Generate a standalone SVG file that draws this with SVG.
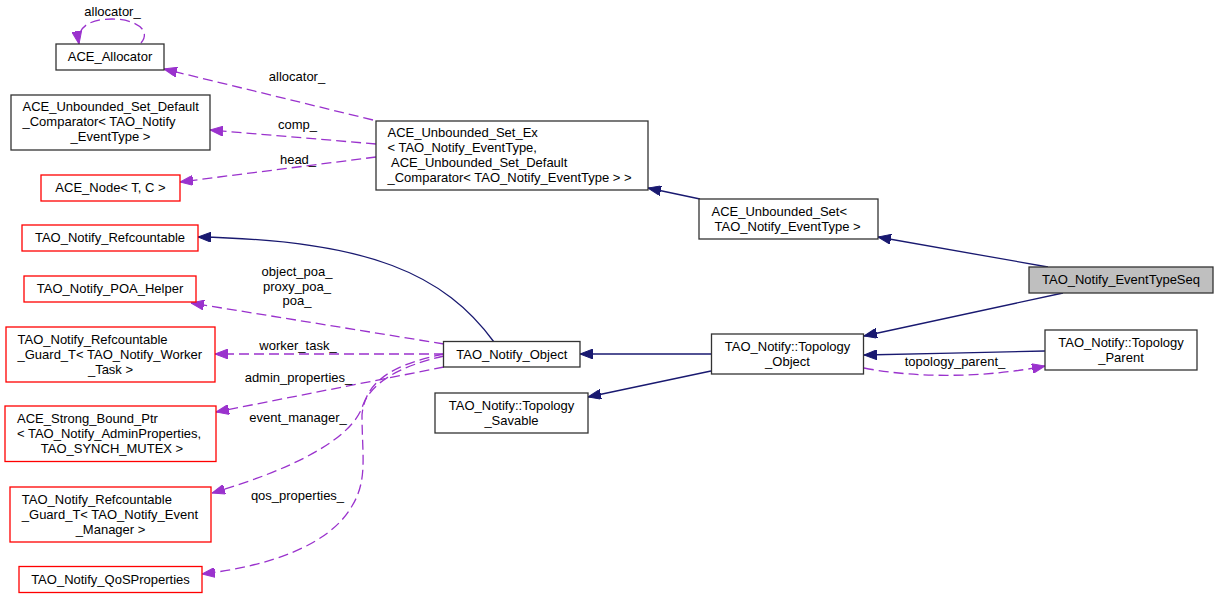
<svg xmlns="http://www.w3.org/2000/svg" width="1219" height="599" viewBox="0 0 1219 599">
<style>
text{font-family:"Liberation Sans",Arial,Helvetica,sans-serif;font-size:13px;fill:#000}
.m{text-anchor:middle}
.node rect{fill:#fff;stroke:#333;stroke-width:1.3}
.node.red rect{stroke:#ff0000}
.node.cur rect{fill:#bfbfbf}
.inh{fill:none;stroke:#191970;stroke-width:1.3;marker-end:url(#an)}
.use{fill:none;stroke:#9a32cd;stroke-width:1.3;stroke-dasharray:10,5;marker-end:url(#ap)}
</style>
<defs>
<marker id="an" viewBox="0 0 13 10" refX="13" refY="5" markerWidth="13" markerHeight="10" markerUnits="userSpaceOnUse" orient="auto"><path d="M0,0 L13,5 L0,10 z" fill="#191970" stroke="#191970" stroke-width="1"/></marker>
<marker id="ap" viewBox="0 0 13 10" refX="13" refY="5" markerWidth="13" markerHeight="10" markerUnits="userSpaceOnUse" orient="auto"><path d="M0,0 L13,5 L0,10 z" fill="#9a32cd" stroke="#9a32cd" stroke-width="1"/></marker>
</defs>
<rect width="1219" height="599" fill="#fff"/>
<g id="edges">
<path class="use" d="M141,43 C152,30 135,19 112,19 C90,19 76,27 79,44"/>
<text class="m" x="112.5" y="16">allocator_</text>
<path class="use" d="M373,120 L164,69"/>
<text class="m" x="297" y="81">allocator_</text>
<path class="use" d="M376,144 L210,130"/>
<text class="m" x="297.5" y="129">comp_</text>
<path class="use" d="M376,157 L180,182"/>
<text class="m" x="298" y="164">head_</text>
<path class="inh" d="M700,199 L648,188"/>
<path class="inh" d="M1048,267 L878,237"/>
<path class="inh" d="M1063,293 L864,336"/>
<path class="inh" d="M1045,351 C990,352 920,354 864,355"/>
<path class="use" d="M864,368 C920,379 990,377 1045,366"/>
<text class="m" x="955" y="366">topology_parent_</text>
<path class="inh" d="M711,354 L580,354"/>
<path class="inh" d="M711,371 L588,397"/>
<path class="inh" d="M494,342 C445,275 370,240 198,237"/>
<path class="use" d="M444,344 L191,303"/>
<text class="m" x="297" y="276">object_poa_</text>
<text class="m" x="297" y="291">proxy_poa_</text>
<text class="m" x="297" y="305">poa_</text>
<path class="use" d="M444,354 L215,354"/>
<text class="m" x="298" y="350">worker_task_</text>
<path class="use" d="M444,367 L216,412"/>
<text class="m" x="298.5" y="382">admin_properties_</text>
<path class="use" d="M444,356 C400,366 372,382 363,405 C352,440 290,470 212,493"/>
<text class="m" x="298" y="422">event_manager_</text>
<path class="use" d="M444,354 C395,364 365,380 362,415 C362,455 368,480 352,506 C330,545 270,566 202,574"/>
<text class="m" x="297.5" y="500">qos_properties_</text>
</g>
<g id="ACE_Allocator" class="node"><rect x="56" y="44" width="108" height="26"/><text class="m" x="110" y="61">ACE_Allocator</text></g>
<g id="ACE_Unbounded_Set_Default_Comparator" class="node"><rect x="11" y="95" width="199" height="55"/><text x="22.5" y="111">ACE_Unbounded_Set_Default</text><text x="22.5" y="126">_Comparator&lt; TAO_Notify</text><text class="m" x="110.5" y="141">_EventType &gt;</text></g>
<g id="ACE_Node" class="node red"><rect x="41" y="175" width="139" height="26"/><text class="m" x="110.5" y="192">ACE_Node&lt; T, C &gt;</text></g>
<g id="ACE_Unbounded_Set_Ex" class="node"><rect x="376" y="121" width="272" height="69"/><text x="387.5" y="137">ACE_Unbounded_Set_Ex</text><text x="387.5" y="152">&lt; TAO_Notify_EventType,</text><text x="391" y="167">ACE_Unbounded_Set_Default</text><text x="387.5" y="182">_Comparator&lt; TAO_Notify_EventType &gt; &gt;</text></g>
<g id="ACE_Unbounded_Set" class="node"><rect x="699" y="199" width="179" height="40"/><text x="711.5" y="215.5">ACE_Unbounded_Set&lt;</text><text x="714.5" y="230.5">TAO_Notify_EventType &gt;</text></g>
<g id="TAO_Notify_EventTypeSeq" class="node cur"><rect x="1029" y="267" width="184" height="26"/><text class="m" x="1121" y="284">TAO_Notify_EventTypeSeq</text></g>
<g id="TAO_Notify_Refcountable" class="node red"><rect x="22" y="225" width="176" height="26"/><text class="m" x="110" y="242">TAO_Notify_Refcountable</text></g>
<g id="TAO_Notify_POA_Helper" class="node red"><rect x="24" y="276" width="172" height="26"/><text class="m" x="110" y="293">TAO_Notify_POA_Helper</text></g>
<g id="Guard_Worker_Task" class="node red"><rect x="6" y="327" width="209" height="55"/><text x="17.5" y="343.5">TAO_Notify_Refcountable</text><text x="17.5" y="358.5">_Guard_T&lt; TAO_Notify_Worker</text><text class="m" x="110.5" y="373.5">_Task &gt;</text></g>
<g id="TAO_Notify_Object" class="node"><rect x="443.5" y="341.5" width="136.5" height="25.5"/><text class="m" x="511.75" y="358.5">TAO_Notify_Object</text></g>
<g id="Topology_Savable" class="node"><rect x="435" y="393" width="153" height="40"/><text class="m" x="511.5" y="409.5">TAO_Notify::Topology</text><text class="m" x="511.5" y="424.5">_Savable</text></g>
<g id="ACE_Strong_Bound_Ptr" class="node red"><rect x="5" y="406" width="211" height="55.5"/><text x="17" y="422.5">ACE_Strong_Bound_Ptr</text><text x="17" y="437.5">&lt; TAO_Notify_AdminProperties,</text><text class="m" x="112" y="452.5">TAO_SYNCH_MUTEX &gt;</text></g>
<g id="Guard_Event_Manager" class="node red"><rect x="10" y="487" width="201" height="55"/><text x="21.8" y="503.5">TAO_Notify_Refcountable</text><text x="21.8" y="518.5">_Guard_T&lt; TAO_Notify_Event</text><text class="m" x="110.5" y="533.5">_Manager &gt;</text></g>
<g id="TAO_Notify_QoSProperties" class="node red"><rect x="19" y="566.5" width="183" height="26"/><text class="m" x="110.5" y="583.5">TAO_Notify_QoSProperties</text></g>
<g id="Topology_Object" class="node"><rect x="711.5" y="334" width="152" height="40"/><text class="m" x="787.5" y="350.5">TAO_Notify::Topology</text><text class="m" x="787.5" y="365.5">_Object</text></g>
<g id="Topology_Parent" class="node"><rect x="1045" y="330" width="152" height="40"/><text class="m" x="1121" y="346.5">TAO_Notify::Topology</text><text class="m" x="1121" y="361.5">_Parent</text></g>
</svg>
